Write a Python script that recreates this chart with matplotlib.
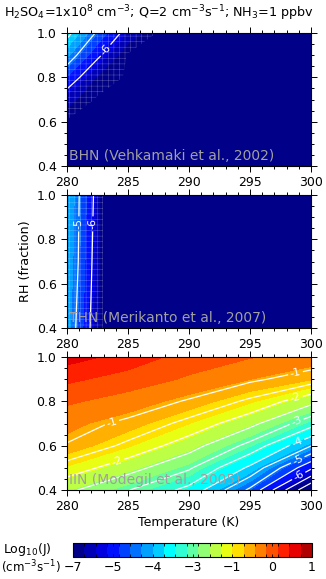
import matplotlib

matplotlib.use("Agg")
import matplotlib.pyplot as plt
import numpy as np
from matplotlib.cm import ScalarMappable
from matplotlib.colors import BoundaryNorm, ListedColormap

plt.rcParams["font.family"] = ["DejaVu Sans"]
plt.rcParams["hatch.color"] = (1.0, 1.0, 1.0, 0.3)
plt.rcParams["hatch.linewidth"] = 0.4
plt.rcParams["contour.negative_linestyle"] = "solid"

# discrete 21-colour rainbow used by the figure
bin_colors = [
    "#000088", "#0000b4", "#0000e0", "#0010ff", "#0040ff", "#0070ff", "#00a0ff",
    "#00ccff", "#00ffff", "#30ffd4", "#60ffa4", "#90ff74", "#bcff44", "#e8ff14",
    "#ffe000", "#ffb000", "#ff8000", "#ff5000", "#ff2000", "#e80000", "#b00000",
]
j_min, j_max = -7.0, 1.0
levels = np.linspace(j_min, j_max, len(bin_colors) + 1)

rh_grid = [0.4, 0.5, 0.6, 0.7, 0.8, 0.9, 1.0]

# BHN (Vehkamaki et al., 2002): log10 J, rows = RH, cols = T
temps_bhn = [280.0, 282.5, 285.0, 287.5, 300.0]
log_j_bhn = [
    [-7.0, -7.0, -7.0, -7.0, -7.0],
    [-7.0, -7.0, -7.0, -7.0, -7.0],
    [-7.0, -7.0, -7.0, -7.0, -7.0],
    [-6.45, -7.0, -7.0, -7.0, -7.0],
    [-5.5, -6.7, -7.0, -7.0, -7.0],
    [-4.6, -5.85, -7.0, -7.0, -7.0],
    [-3.8, -5.1, -6.3, -7.0, -7.0],
]

# THN (Merikanto et al., 2007)
temps_thn = [280.0, 281.0, 282.0, 283.0, 284.0, 300.0]
rh_thn = [0.4, 0.7, 1.0]
log_j_thn = [
    [-4.5, -5.2, -6.1, -7.0, -7.0, -7.0],
    [-4.4, -5.05, -5.95, -7.0, -7.0, -7.0],
    [-4.3, -5.0, -5.8, -7.0, -7.0, -7.0],
]

# IIN (Modgil et al., 2005)
temps_iin = [280.0, 285.0, 290.0, 295.0, 300.0]
log_j_iin = [
    [-2.4, -2.98, -3.65, -5.1, -7.5],
    [-1.72, -2.3, -2.93, -4.1, -5.9],
    [-1.03, -1.62, -2.28, -3.15, -4.48],
    [-0.8, -1.1, -1.66, -2.35, -3.3],
    [-0.46, -0.7, -1.05, -1.6, -2.35],
    [-0.06, -0.3, -0.58, -0.9, -1.25],
    [0.42, 0.08, -0.3, -0.5, -0.65],
]

# contour levels: labelled lines and plain lines per panel
labelled_bhn, plain_bhn = [-6], [-5, -4]
labelled_thn, plain_thn = [-6, -5], []
labelled_iin = [-6, -5, -4, -3, -2, -1]
plain_iin = [-7, -6.5, -5.5, -4.5, -3.5, -2.5, -1.5]

# where the contour labels sit (T, RH)
label_spots_bhn = [(283.0, 0.93)]
label_spots_thn = [(280.8, 0.87), (282.0, 0.87)]
label_spots_iin = [(283.8, 0.68), (298.7, 0.935), (284.1, 0.53), (298.7, 0.82),
                   (298.7, 0.726), (298.7, 0.636), (298.7, 0.561), (298.7, 0.493)]

panels = [
    ("BHN (Vehkamaki et al., 2002)", temps_bhn, rh_grid, log_j_bhn,
     labelled_bhn, plain_bhn, label_spots_bhn, True),
    ("THN (Merikanto et al., 2007)", temps_thn, rh_thn, log_j_thn,
     labelled_thn, plain_thn, label_spots_thn, True),
    ("IIN (Modegil et al., 2005)", temps_iin, rh_grid, log_j_iin,
     labelled_iin, plain_iin, label_spots_iin, False),
]

cmap = ListedColormap(bin_colors)
cmap.set_under(bin_colors[0])
cmap.set_over(bin_colors[-1])
norm = BoundaryNorm(levels, cmap.N)

W, H = 326, 579
fig = plt.figure(figsize=(W / 100, H / 100), dpi=100)

ax_left, ax_w = 67 / W, 244 / W
panel_tops = [33, 195, 357]
panel_h = 133
fs = 9.0

fig.text(0.487, 1 - 13 / H,
         r"H$_2$SO$_4$=1x10$^8$ cm$^{-3}$; Q=2 cm$^{-3}$s$^{-1}$; NH$_3$=1 ppbv",
         ha="center", va="center", fontsize=9.2)

for i, (name, temps, rhs, vals, labelled, plain, spots, hatch) in enumerate(panels):
    top = panel_tops[i]
    ax = fig.add_axes([ax_left, 1 - (top + panel_h) / H, ax_w, panel_h / H])
    t = np.asarray(temps)
    r = np.asarray(rhs)
    z = np.asarray(vals)
    ax.contourf(t, r, z, levels=levels, cmap=cmap, norm=norm, extend="both")
    if hatch:
        ax.contourf(t, r, z, levels=[-6.95, 5.0], colors="none", hatches=["+++"])
    if plain:
        ax.contour(t, r, z, levels=plain, colors="white", linewidths=0.85)
    cs = ax.contour(t, r, z, levels=labelled, colors="white", linewidths=0.9)
    try:
        ax.clabel(cs, fmt=lambda v: f"{v:.0f}", fontsize=8, inline=True,
                  inline_spacing=2, manual=spots)
    except Exception as exc:
        print(f"manual labels failed: {exc}")
        ax.clabel(cs, fmt=lambda v: f"{v:.0f}", fontsize=8, inline=True, inline_spacing=2)

    ax.text(280.2, 0.415, name, color="#a0a0a0", fontsize=10, ha="left", va="bottom")

    ax.set_xlim(280, 300)
    ax.set_ylim(0.4, 1.0)
    ax.set_xticks([280, 285, 290, 295, 300])
    ax.set_xticks(np.arange(280, 301, 1), minor=True)
    ax.set_yticks([0.4, 0.6, 0.8, 1.0])
    ax.set_yticks(np.arange(0.4, 1.001, 0.05), minor=True)
    ax.set_yticklabels(["0.4", "0.6", "0.8", "1.0"])
    ax.tick_params(which="both", direction="out", top=True, right=True, labelsize=fs, width=0.7)
    ax.tick_params(which="major", length=4, pad=3.5)
    ax.tick_params(which="minor", length=2)
    for s in ax.spines.values():
        s.set_linewidth(0.8)
    if i == 1:
        ax.set_ylabel("RH (fraction)", fontsize=9.2, labelpad=3)
    if i == 2:
        ax.set_xlabel("Temperature (K)", fontsize=9, labelpad=2)

cax = fig.add_axes([73 / W, 1 - 557 / H, 239 / W, 14 / H])
sm = ScalarMappable(norm=norm, cmap=cmap)
cb = fig.colorbar(sm, cax=cax, orientation="horizontal", boundaries=levels, extend="neither")
cb_ticks = np.linspace(j_min, j_max, 7)
cb.set_ticks(cb_ticks)
cb.set_ticklabels([str(int(v)).replace("-", "\u2212") for v in cb_ticks])
cax.set_xticks(levels, minor=True)
cax.tick_params(which="both", direction="in", top=True, labelsize=fs, length=2, width=0.6, pad=3)
cb.outline.set_linewidth(0.8)

fig.text(3 / W, 1 - 549 / H, r"Log$_{10}$(J)", fontsize=9, ha="left", va="center")
fig.text(1 / W, 1 - 567 / H, r"(cm$^{-3}$s$^{-1}$)", fontsize=8.6, ha="left", va="center")

fig.savefig("out.png", dpi=100)
plt.close(fig)
